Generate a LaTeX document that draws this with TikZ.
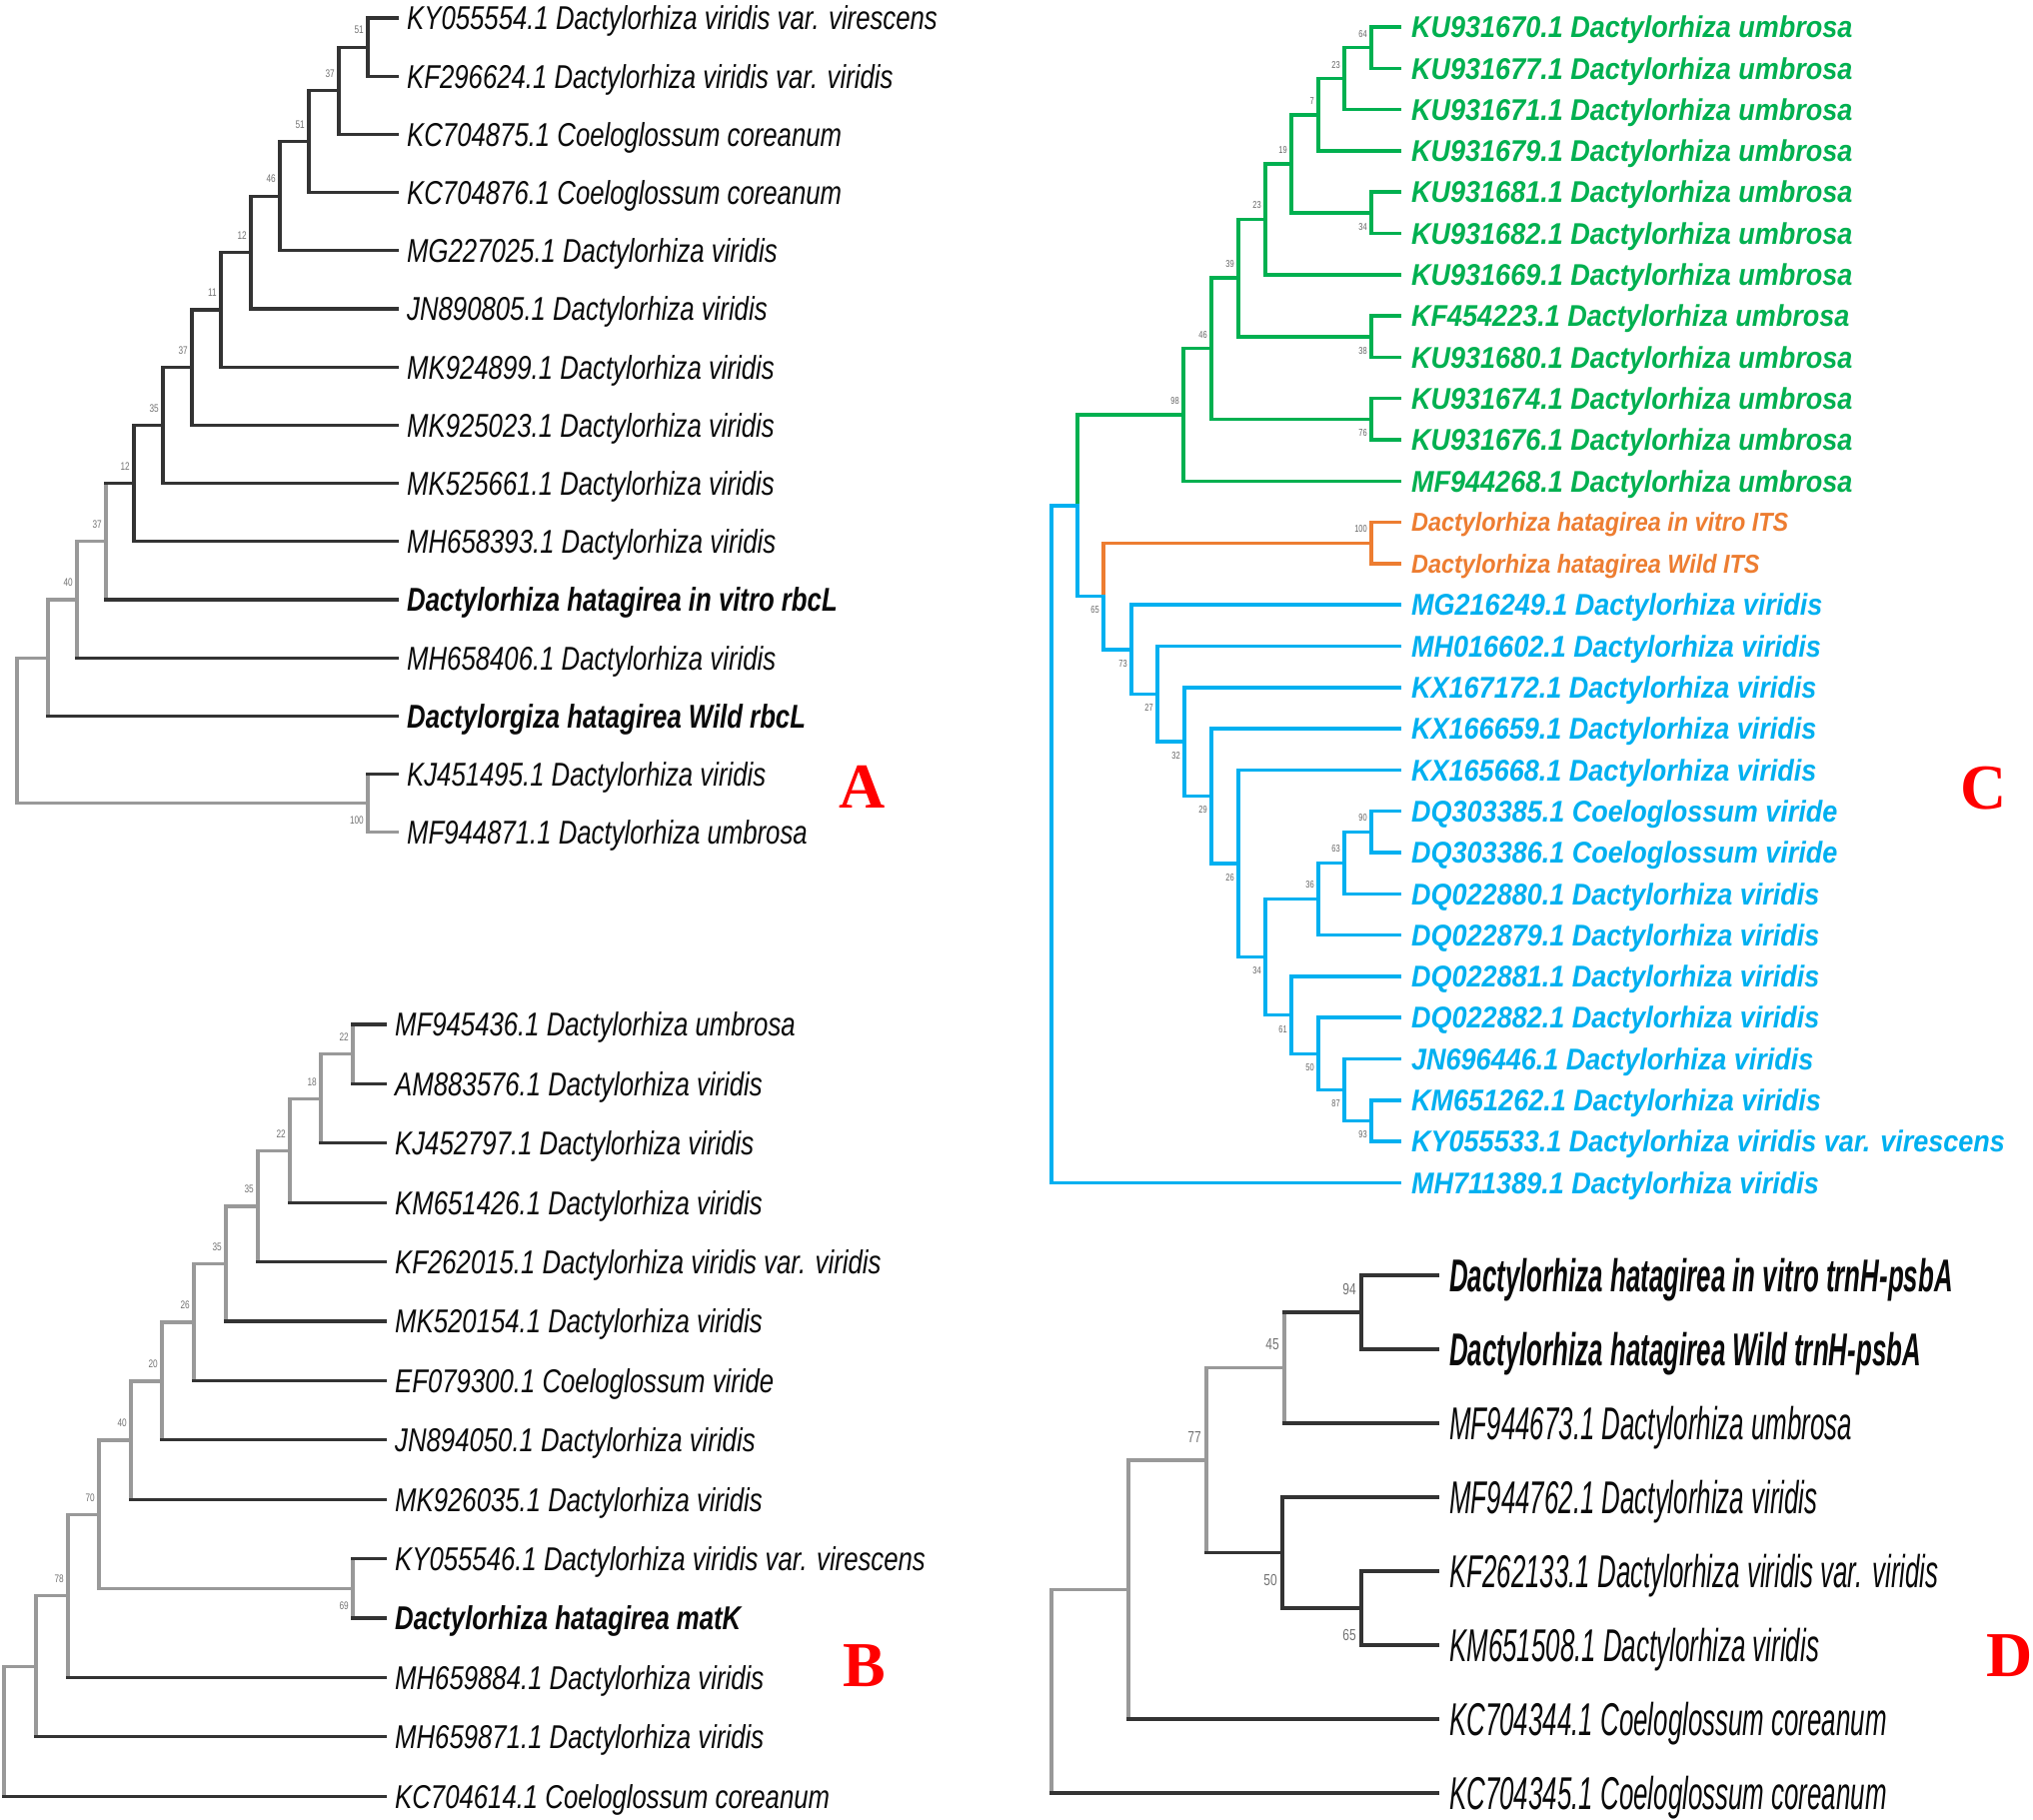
\documentclass[tikz,border=0pt]{standalone}
\usepackage{fontspec}
\setmainfont{Liberation Sans}
\newfontfamily\fA[FakeStretch=0.78]{Liberation Sans}
\newfontfamily\fC[FakeStretch=0.9]{Liberation Sans}
\newfontfamily\fD[FakeStretch=0.563]{Liberation Sans}
\newfontfamily\fN[FakeStretch=0.75]{Liberation Sans}
\newfontfamily\fL{Liberation Serif}
\definecolor{dk}{HTML}{333333}
\definecolor{lt}{HTML}{999999}
\definecolor{txt}{HTML}{0A0A0A}
\definecolor{cg}{HTML}{00B050}
\definecolor{cb}{HTML}{00B0F0}
\definecolor{co}{HTML}{ED7D31}
\definecolor{lred}{HTML}{FF0000}
\newcommand\pvert[4]{\draw[#1] (#2 |- #3) -- (#2 |- #4);}
\newcommand\phor[3]{\draw[#1] (#2 |- #3) -- (#3);}
\newcommand\pleaf[5]{\coordinate (#1) at (#2,#3); \node[#4] (t#1) at (#1) {#5};}
\newcommand\pnode[3]{\coordinate (#1) at (#2,#3);}
\newcommand\pbs[3]{\node[#2] (b#1) at (#1) {#3};}
\begin{document}
\begin{tikzpicture}[x=1pt,y=-1pt,
  br/.style={line width=3.2pt, line cap=rect},
  dkb/.style={br, draw=dk}, ltb/.style={br, draw=lt},
  gb/.style={line width=3.5pt, line cap=rect, draw=cg},
  bb/.style={line width=3.5pt, line cap=rect, draw=cb},
  ob/.style={line width=3.5pt, line cap=rect, draw=co},
  labA/.style={anchor=base west, inner sep=0pt, xshift=10pt, yshift=-11.8pt, text=txt, font=\fA\fontsize{33}{36}\selectfont\itshape},
  labAb/.style={labA, font=\fA\fontsize{33}{36}\selectfont\bfseries\itshape},
  labCg/.style={anchor=base west, inner sep=0pt, xshift=12pt, yshift=-10.7pt, text=cg, font=\fC\fontsize{30}{33}\selectfont\bfseries\itshape},
  labCb/.style={labCg, text=cb},
  labCo/.style={anchor=base west, inner sep=0pt, xshift=12pt, yshift=-9.3pt, text=co, font=\fC\fontsize{26}{29}\selectfont\bfseries\itshape},
  labD/.style={anchor=base west, inner sep=0pt, xshift=12pt, yshift=-16.5pt, text=txt, font=\fD\fontsize{46}{50}\selectfont\itshape},
  labDb/.style={labD, font=\fD\fontsize{46}{50}\selectfont\bfseries\itshape},
  bsA/.style={anchor=east, inner sep=0pt, text=black!55, font=\fN\fontsize{11}{11}\selectfont},
  bsAu/.style={bsA, xshift=-4pt, yshift=17pt},
  bsAd/.style={bsA, xshift=-4pt, yshift=-17pt},
  bsC/.style={anchor=east, inner sep=0pt, text=black!60, font=\fN\fontsize{10}{10}\selectfont},
  bsCu/.style={bsC, xshift=-4pt, yshift=14pt},
  bsCd/.style={bsC, xshift=-4pt, yshift=-14pt},
  bsD/.style={anchor=east, inner sep=0pt, text=black!55, font=\fN\fontsize{16}{16}\selectfont},
  bsDu/.style={bsD, xshift=-5pt, yshift=23pt},
  bsDd/.style={bsD, xshift=-5pt, yshift=-27pt},
  plab/.style={inner sep=0pt, text=lred, font=\fL\fontsize{64}{64}\selectfont\bfseries}]
\fill[white] (0,0) rectangle (2034,1820);
\useasboundingbox (0,0) rectangle (2034,1820);

% ================= Panel A =================
\pleaf{aL0}{397}{18.0}{labA}{KY055554.1 Dactylorhiza viridis var. virescens}
\pleaf{aL1}{397}{76.2}{labA}{KF296624.1 Dactylorhiza viridis var. viridis}
\pleaf{aL2}{397}{134.4}{labA}{KC704875.1 Coeloglossum coreanum}
\pleaf{aL3}{397}{192.6}{labA}{KC704876.1 Coeloglossum coreanum}
\pleaf{aL4}{397}{250.8}{labA}{MG227025.1 Dactylorhiza viridis}
\pleaf{aL5}{397}{309.0}{labA}{JN890805.1 Dactylorhiza viridis}
\pleaf{aL6}{397}{367.2}{labA}{MK924899.1 Dactylorhiza viridis}
\pleaf{aL7}{397}{425.4}{labA}{MK925023.1 Dactylorhiza viridis}
\pleaf{aL8}{397}{483.6}{labA}{MK525661.1 Dactylorhiza viridis}
\pleaf{aL9}{397}{541.8}{labA}{MH658393.1 Dactylorhiza viridis}
\pleaf{aL10}{397}{600.0}{labAb}{Dactylorhiza hatagirea in vitro rbcL}
\pleaf{aL11}{397}{658.2}{labA}{MH658406.1 Dactylorhiza viridis}
\pleaf{aL12}{397}{716.4}{labAb}{Dactylorgiza hatagirea Wild rbcL}
\pleaf{aL13}{397}{774.6}{labA}{KJ451495.1 Dactylorhiza viridis}
\pleaf{aL14}{397}{832.8}{labA}{MF944871.1 Dactylorhiza umbrosa}
\pnode{aN1}{368}{47.1}
\pnode{aN2}{339}{90.8}
\pnode{aN3}{309}{141.7}
\pnode{aN4}{280}{196.2}
\pnode{aN5}{251}{252.6}
\pnode{aN6}{221}{309.9}
\pnode{aN7}{192}{367.6}
\pnode{aN8}{163}{425.6}
\pnode{aN9}{134}{483.7}
\pnode{aN10}{106}{541.85}
\pnode{aN11}{77}{600.0}
\pnode{aN12}{48}{658.2}
\pnode{aN13}{368}{803.7}
\pnode{aR}{17}{730.95}
% light branches
\pvert{ltb}{aN10}{aN9}{aL10}
\pvert{ltb}{aN11}{aN10}{aL11}
\phor{ltb}{aN11}{aN10}
\pvert{ltb}{aN12}{aN11}{aL12}
\phor{ltb}{aN12}{aN11}
\pvert{ltb}{aN13}{aL13}{aL14}
\phor{ltb}{aN13}{aL14}
\pvert{ltb}{aR}{aN12}{aN13}
\phor{ltb}{aR}{aN12}
\phor{ltb}{aR}{aN13}
% dark branches
\pvert{dkb}{aN1}{aL0}{aL1} \phor{dkb}{aN1}{aL0} \phor{dkb}{aN1}{aL1}
\pvert{dkb}{aN2}{aN1}{aL2} \phor{dkb}{aN2}{aN1} \phor{dkb}{aN2}{aL2}
\pvert{dkb}{aN3}{aN2}{aL3} \phor{dkb}{aN3}{aN2} \phor{dkb}{aN3}{aL3}
\pvert{dkb}{aN4}{aN3}{aL4} \phor{dkb}{aN4}{aN3} \phor{dkb}{aN4}{aL4}
\pvert{dkb}{aN5}{aN4}{aL5} \phor{dkb}{aN5}{aN4} \phor{dkb}{aN5}{aL5}
\pvert{dkb}{aN6}{aN5}{aL6} \phor{dkb}{aN6}{aN5} \phor{dkb}{aN6}{aL6}
\pvert{dkb}{aN7}{aN6}{aL7} \phor{dkb}{aN7}{aN6} \phor{dkb}{aN7}{aL7}
\pvert{dkb}{aN8}{aN7}{aL8} \phor{dkb}{aN8}{aN7} \phor{dkb}{aN8}{aL8}
\pvert{dkb}{aN9}{aN8}{aL9} \phor{dkb}{aN9}{aN8} \phor{dkb}{aN9}{aL9}
\phor{dkb}{aN10}{aN9} \phor{dkb}{aN10}{aL10}
\phor{dkb}{aN11}{aL11}
\phor{dkb}{aN12}{aL12}
\phor{dkb}{aN13}{aL13}
% bootstrap
\pbs{aN1}{bsAu}{51}
\pbs{aN2}{bsAu}{37}
\pbs{aN3}{bsAu}{51}
\pbs{aN4}{bsAu}{46}
\pbs{aN5}{bsAu}{12}
\pbs{aN6}{bsAu}{11}
\pbs{aN7}{bsAu}{37}
\pbs{aN8}{bsAu}{35}
\pbs{aN9}{bsAu}{12}
\pbs{aN10}{bsAu}{37}
\pbs{aN11}{bsAu}{40}
\pbs{aN13}{bsAd}{100}
\node[plab] (lA) at (863,787) {A};

% ================= Panel B =================
\pleaf{bL0}{385}{1025.0}{labA}{MF945436.1 Dactylorhiza umbrosa}
\pleaf{bL1}{385}{1084.4}{labA}{AM883576.1 Dactylorhiza viridis}
\pleaf{bL2}{385}{1143.8}{labA}{KJ452797.1 Dactylorhiza viridis}
\pleaf{bL3}{385}{1203.2}{labA}{KM651426.1 Dactylorhiza viridis}
\pleaf{bL4}{385}{1262.6}{labA}{KF262015.1 Dactylorhiza viridis var. viridis}
\pleaf{bL5}{385}{1322.0}{labA}{MK520154.1 Dactylorhiza viridis}
\pleaf{bL6}{385}{1381.4}{labA}{EF079300.1 Coeloglossum viride}
\pleaf{bL7}{385}{1440.8}{labA}{JN894050.1 Dactylorhiza viridis}
\pleaf{bL8}{385}{1500.2}{labA}{MK926035.1 Dactylorhiza viridis}
\pleaf{bL9}{385}{1559.6}{labA}{KY055546.1 Dactylorhiza viridis var. virescens}
\pleaf{bL10}{385}{1619.0}{labAb}{Dactylorhiza hatagirea matK}
\pleaf{bL11}{385}{1678.4}{labA}{MH659884.1 Dactylorhiza viridis}
\pleaf{bL12}{385}{1737.8}{labA}{MH659871.1 Dactylorhiza viridis}
\pleaf{bL13}{385}{1797.2}{labA}{KC704614.1 Coeloglossum coreanum}
\pnode{bN1}{353}{1054.7}
\pnode{bN2}{321}{1099.25}
\pnode{bN3}{290}{1151.2}
\pnode{bN4}{258}{1206.9}
\pnode{bN5}{226}{1264.45}
\pnode{bN6}{194}{1322.95}
\pnode{bN7}{162}{1381.9}
\pnode{bN8}{131}{1441.05}
\pnode{bNK}{353}{1589.3}
\pnode{bN9}{99}{1515.2}
\pnode{bN10}{68}{1596.8}
\pnode{bN11}{36}{1667.3}
\pnode{bR}{4}{1732.25}
\pvert{ltb}{bN1}{bL0}{bL1}
\pvert{ltb}{bN2}{bN1}{bL2} \phor{ltb}{bN2}{bN1}
\pvert{ltb}{bN3}{bN2}{bL3} \phor{ltb}{bN3}{bN2}
\pvert{ltb}{bN4}{bN3}{bL4} \phor{ltb}{bN4}{bN3}
\pvert{ltb}{bN5}{bN4}{bL5} \phor{ltb}{bN5}{bN4}
\pvert{ltb}{bN6}{bN5}{bL6} \phor{ltb}{bN6}{bN5}
\pvert{ltb}{bN7}{bN6}{bL7} \phor{ltb}{bN7}{bN6}
\pvert{ltb}{bN8}{bN7}{bL8} \phor{ltb}{bN8}{bN7}
\pvert{ltb}{bNK}{bL9}{bL10}
\pvert{ltb}{bN9}{bN8}{bNK} \phor{ltb}{bN9}{bN8} \phor{ltb}{bN9}{bNK}
\pvert{ltb}{bN10}{bN9}{bL11} \phor{ltb}{bN10}{bN9}
\pvert{ltb}{bN11}{bN10}{bL12} \phor{ltb}{bN11}{bN10}
\pvert{ltb}{bR}{bN11}{bL13} \phor{ltb}{bR}{bN11}
\phor{dkb}{bN1}{bL0} \phor{dkb}{bN1}{bL1}
\phor{dkb}{bN2}{bL2} \phor{dkb}{bN3}{bL3}
\phor{dkb}{bN4}{bL4} \phor{dkb}{bN5}{bL5}
\phor{dkb}{bN6}{bL6} \phor{dkb}{bN7}{bL7}
\phor{dkb}{bN8}{bL8}
\phor{dkb}{bNK}{bL9} \phor{dkb}{bNK}{bL10}
\phor{dkb}{bN10}{bL11} \phor{dkb}{bN11}{bL12}
\phor{dkb}{bR}{bL13}
\pbs{bN1}{bsAu}{22}
\pbs{bN2}{bsAu}{18}
\pbs{bN3}{bsAu}{22}
\pbs{bN4}{bsAu}{35}
\pbs{bN5}{bsAu}{35}
\pbs{bN6}{bsAu}{26}
\pbs{bN7}{bsAu}{20}
\pbs{bN8}{bsAu}{40}
\pbs{bN9}{bsAu}{70}
\pbs{bNK}{bsAd}{69}
\pbs{bN10}{bsAu}{78}
\node[plab] (lB) at (865,1667) {B};

% ================= Panel C =================
\pleaf{cL0}{1400}{27.0}{labCg}{KU931670.1 Dactylorhiza umbrosa}
\pleaf{cL1}{1400}{68.3}{labCg}{KU931677.1 Dactylorhiza umbrosa}
\pleaf{cL2}{1400}{109.6}{labCg}{KU931671.1 Dactylorhiza umbrosa}
\pleaf{cL3}{1400}{150.9}{labCg}{KU931679.1 Dactylorhiza umbrosa}
\pleaf{cL4}{1400}{192.2}{labCg}{KU931681.1 Dactylorhiza umbrosa}
\pleaf{cL5}{1400}{233.5}{labCg}{KU931682.1 Dactylorhiza umbrosa}
\pleaf{cL6}{1400}{274.8}{labCg}{KU931669.1 Dactylorhiza umbrosa}
\pleaf{cL7}{1400}{316.1}{labCg}{KF454223.1 Dactylorhiza umbrosa}
\pleaf{cL8}{1400}{357.4}{labCg}{KU931680.1 Dactylorhiza umbrosa}
\pleaf{cL9}{1400}{398.7}{labCg}{KU931674.1 Dactylorhiza umbrosa}
\pleaf{cL10}{1400}{440.0}{labCg}{KU931676.1 Dactylorhiza umbrosa}
\pleaf{cL11}{1400}{481.3}{labCg}{MF944268.1 Dactylorhiza umbrosa}
\pleaf{cL12}{1400}{522.6}{labCo}{Dactylorhiza hatagirea in vitro ITS}
\pleaf{cL13}{1400}{563.9}{labCo}{Dactylorhiza hatagirea Wild ITS}
\pleaf{cL14}{1400}{605.2}{labCb}{MG216249.1 Dactylorhiza viridis}
\pleaf{cL15}{1400}{646.5}{labCb}{MH016602.1 Dactylorhiza viridis}
\pleaf{cL16}{1400}{687.8}{labCb}{KX167172.1 Dactylorhiza viridis}
\pleaf{cL17}{1400}{729.1}{labCb}{KX166659.1 Dactylorhiza viridis}
\pleaf{cL18}{1400}{770.4}{labCb}{KX165668.1 Dactylorhiza viridis}
\pleaf{cL19}{1400}{811.7}{labCb}{DQ303385.1 Coeloglossum viride}
\pleaf{cL20}{1400}{853.0}{labCb}{DQ303386.1 Coeloglossum viride}
\pleaf{cL21}{1400}{894.3}{labCb}{DQ022880.1 Dactylorhiza viridis}
\pleaf{cL22}{1400}{935.6}{labCb}{DQ022879.1 Dactylorhiza viridis}
\pleaf{cL23}{1400}{976.9}{labCb}{DQ022881.1 Dactylorhiza viridis}
\pleaf{cL24}{1400}{1018.2}{labCb}{DQ022882.1 Dactylorhiza viridis}
\pleaf{cL25}{1400}{1059.5}{labCb}{JN696446.1 Dactylorhiza viridis}
\pleaf{cL26}{1400}{1100.8}{labCb}{KM651262.1 Dactylorhiza viridis}
\pleaf{cL27}{1400}{1142.1}{labCb}{KY055533.1 Dactylorhiza viridis var. virescens}
\pleaf{cL28}{1400}{1183.4}{labCb}{MH711389.1 Dactylorhiza viridis}
\pnode{cG1}{1372}{47.65}
\pnode{cG2}{1345}{78.6}
\pnode{cG3}{1319}{114.75}
\pnode{cG4}{1372}{212.85}
\pnode{cG5}{1292}{163.8}
\pnode{cG6}{1266}{219.3}
\pnode{cG7}{1372}{336.75}
\pnode{cG8}{1239}{278.0}
\pnode{cG9}{1372}{419.35}
\pnode{cG10}{1212}{348.7}
\pnode{cG11}{1184}{415.0}
\pnode{cX}{1078}{505.75}
\pnode{cR}{1052}{844.6}
\pnode{cY}{1104}{596.5}
\pnode{cO1}{1372}{543.25}
\pnode{cB1}{1132}{649.75}
\pnode{cB2}{1158}{694.3}
\pnode{cB3}{1185}{742.15}
\pnode{cB4}{1212}{796.5}
\pnode{cB5}{1239}{863.95}
\pnode{cB6}{1266}{957.5}
\pnode{cB7}{1319}{899.45}
\pnode{cB8}{1345}{863.3}
\pnode{cB8a}{1372}{832.35}
\pnode{cB9}{1292}{1015.6}
\pnode{cB10}{1319}{1054.35}
\pnode{cB11}{1345}{1090.5}
\pnode{cB12}{1372}{1121.45}
% green clade
\pvert{gb}{cG1}{cL0}{cL1} \phor{gb}{cG1}{cL0} \phor{gb}{cG1}{cL1}
\pvert{gb}{cG2}{cG1}{cL2} \phor{gb}{cG2}{cG1} \phor{gb}{cG2}{cL2}
\pvert{gb}{cG3}{cG2}{cL3} \phor{gb}{cG3}{cG2} \phor{gb}{cG3}{cL3}
\pvert{gb}{cG4}{cL4}{cL5} \phor{gb}{cG4}{cL4} \phor{gb}{cG4}{cL5}
\pvert{gb}{cG5}{cG3}{cG4} \phor{gb}{cG5}{cG3} \phor{gb}{cG5}{cG4}
\pvert{gb}{cG6}{cG5}{cL6} \phor{gb}{cG6}{cG5} \phor{gb}{cG6}{cL6}
\pvert{gb}{cG7}{cL7}{cL8} \phor{gb}{cG7}{cL7} \phor{gb}{cG7}{cL8}
\pvert{gb}{cG8}{cG6}{cG7} \phor{gb}{cG8}{cG6} \phor{gb}{cG8}{cG7}
\pvert{gb}{cG9}{cL9}{cL10} \phor{gb}{cG9}{cL9} \phor{gb}{cG9}{cL10}
\pvert{gb}{cG10}{cG8}{cG9} \phor{gb}{cG10}{cG8} \phor{gb}{cG10}{cG9}
\pvert{gb}{cG11}{cG10}{cL11} \phor{gb}{cG11}{cG10} \phor{gb}{cG11}{cL11}
\phor{gb}{cX}{cG11}
\draw[gb] (cX |- cG11) -- (cX);
% orange clade
\pvert{ob}{cO1}{cL12}{cL13} \phor{ob}{cO1}{cL12} \phor{ob}{cO1}{cL13}
\phor{ob}{cY}{cO1}
\draw[ob] (cY |- cO1) -- (cY);
% blue clade
\draw[bb] (cX) -- (cX |- cY);
\phor{bb}{cX}{cY}
\draw[bb] (cY) -- (cY |- cB1);
\phor{bb}{cY}{cB1}
\pvert{bb}{cR}{cX}{cL28} \phor{bb}{cR}{cX} \phor{bb}{cR}{cL28}
\pvert{bb}{cB1}{cL14}{cB2} \phor{bb}{cB1}{cL14} \phor{bb}{cB1}{cB2}
\pvert{bb}{cB2}{cL15}{cB3} \phor{bb}{cB2}{cL15} \phor{bb}{cB2}{cB3}
\pvert{bb}{cB3}{cL16}{cB4} \phor{bb}{cB3}{cL16} \phor{bb}{cB3}{cB4}
\pvert{bb}{cB4}{cL17}{cB5} \phor{bb}{cB4}{cL17} \phor{bb}{cB4}{cB5}
\pvert{bb}{cB5}{cL18}{cB6} \phor{bb}{cB5}{cL18} \phor{bb}{cB5}{cB6}
\pvert{bb}{cB6}{cB7}{cB9} \phor{bb}{cB6}{cB7} \phor{bb}{cB6}{cB9}
\pvert{bb}{cB7}{cB8}{cL22} \phor{bb}{cB7}{cB8} \phor{bb}{cB7}{cL22}
\pvert{bb}{cB8}{cB8a}{cL21} \phor{bb}{cB8}{cB8a} \phor{bb}{cB8}{cL21}
\pvert{bb}{cB8a}{cL19}{cL20} \phor{bb}{cB8a}{cL19} \phor{bb}{cB8a}{cL20}
\pvert{bb}{cB9}{cL23}{cB10} \phor{bb}{cB9}{cL23} \phor{bb}{cB9}{cB10}
\pvert{bb}{cB10}{cL24}{cB11} \phor{bb}{cB10}{cL24} \phor{bb}{cB10}{cB11}
\pvert{bb}{cB11}{cL25}{cB12} \phor{bb}{cB11}{cL25} \phor{bb}{cB11}{cB12}
\pvert{bb}{cB12}{cL26}{cL27} \phor{bb}{cB12}{cL26} \phor{bb}{cB12}{cL27}
% bootstrap
\pbs{cG1}{bsCu}{64}
\pbs{cG2}{bsCu}{23}
\pbs{cG3}{bsCu}{7}
\pbs{cG4}{bsCd}{34}
\pbs{cG5}{bsCu}{19}
\pbs{cG6}{bsCu}{23}
\pbs{cG7}{bsCd}{38}
\pbs{cG8}{bsCu}{39}
\pbs{cG9}{bsCd}{76}
\pbs{cG10}{bsCu}{46}
\pbs{cG11}{bsCu}{98}
\pbs{cO1}{bsCu}{100}
\pbs{cY}{bsCd}{65}
\pbs{cB1}{bsCd}{73}
\pbs{cB2}{bsCd}{27}
\pbs{cB3}{bsCd}{32}
\pbs{cB4}{bsCd}{29}
\pbs{cB5}{bsCd}{26}
\pbs{cB6}{bsCd}{34}
\pbs{cB7}{bsCu}{36}
\pbs{cB8}{bsCu}{63}
\pbs{cB8a}{bsCu}{90}
\pbs{cB9}{bsCd}{61}
\pbs{cB10}{bsCd}{50}
\pbs{cB11}{bsCd}{87}
\pbs{cB12}{bsCd}{93}
\node[plab] (lC) at (1985,789) {C};

% ================= Panel D =================
\pleaf{dL0}{1438}{1276}{labDb}{Dactylorhiza hatagirea in vitro trnH-psbA}
\pleaf{dL1}{1438}{1350}{labDb}{Dactylorhiza hatagirea Wild trnH-psbA}
\pleaf{dL2}{1438}{1424}{labD}{MF944673.1 Dactylorhiza umbrosa}
\pleaf{dL3}{1438}{1498}{labD}{MF944762.1 Dactylorhiza viridis}
\pleaf{dL4}{1438}{1572}{labD}{KF262133.1 Dactylorhiza viridis var. viridis}
\pleaf{dL5}{1438}{1646}{labD}{KM651508.1 Dactylorhiza viridis}
\pleaf{dL6}{1438}{1720}{labD}{KC704344.1 Coeloglossum coreanum}
\pleaf{dL7}{1438}{1794}{labD}{KC704345.1 Coeloglossum coreanum}
\pnode{dN1}{1362}{1313}
\pnode{dN2}{1285}{1368.5}
\pnode{dN4b}{1362}{1609}
\pnode{dN4}{1283}{1553.5}
\pnode{dN3}{1207}{1461}
\pnode{dN5}{1129}{1590.5}
\pnode{dR}{1052}{1692.25}
\pvert{ltb}{dN2}{dN1}{dL2} \phor{ltb}{dN3}{dN2}
\pvert{ltb}{dN3}{dN2}{dN4} \phor{ltb}{dN5}{dN3}
\pvert{ltb}{dN5}{dN3}{dL6} \phor{ltb}{dR}{dN5}
\pvert{ltb}{dR}{dN5}{dL7}
\pvert{dkb}{dN1}{dL0}{dL1} \phor{dkb}{dN1}{dL0} \phor{dkb}{dN1}{dL1}
\phor{dkb}{dN2}{dN1} \phor{dkb}{dN2}{dL2}
\pvert{dkb}{dN4b}{dL4}{dL5} \phor{dkb}{dN4b}{dL4} \phor{dkb}{dN4b}{dL5}
\pvert{dkb}{dN4}{dL3}{dN4b} \phor{dkb}{dN4}{dL3} \phor{dkb}{dN4}{dN4b}
\phor{dkb}{dN3}{dN4}
\phor{dkb}{dN5}{dL6}
\phor{dkb}{dR}{dL7}
\pbs{dN1}{bsDu}{94}
\pbs{dN2}{bsDu}{45}
\pbs{dN3}{bsDu}{77}
\pbs{dN4}{bsDd}{50}
\pbs{dN4b}{bsDd}{65}
\node[plab] (lD) at (2011,1657) {D};
\end{tikzpicture}
\end{document}
